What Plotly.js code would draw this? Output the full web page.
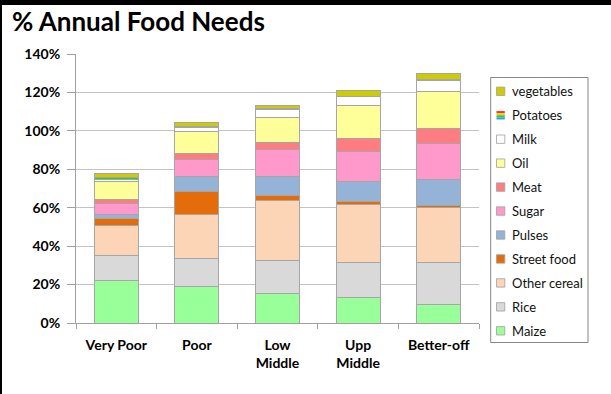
<!DOCTYPE html>
<html>
<head>
<meta charset="utf-8">
<script src="https://cdn.plot.ly/plotly-3.0.1.min.js"></script>
<style>
  html, body { margin: 0; padding: 0; background: #000; width: 611px; height: 394px; overflow: hidden; }
  #chart { position: absolute; left: 2px; top: 5px; width: 609px; height: 389px; background: #fff; }
</style>
</head>
<body>
<div id="chart"></div>
<script>
// ---- data ----
const groups = ['Very Poor', 'Poor', 'Low Middle', 'Upp Middle', 'Better-off'];
const tickLabels = ['Very Poor', 'Poor', 'Low<br>Middle', 'Upp<br>Middle', 'Better-off'];

const seriesNames = ['Maize', 'Rice', 'Other cereal', 'Street food', 'Pulses', 'Sugar', 'Meat', 'Oil', 'Milk', 'Potatoes', 'vegetables'];
const seriesColors = ['#99ff99', '#d9d9d9', '#fbd5b5', '#e46c0a', '#95b3d7', '#ff99cc', '#ff7c80', '#ffff99', '#ffffff', '#ff9900', '#cccc00'];

// percent of annual food needs, per group (Very Poor, Poor, Low Middle, Upp Middle, Better-off)
const maize       = [22.0, 19.0, 15.5, 13.5,  9.6];
const rice        = [13.0, 14.5, 17.1, 18.1, 21.8];
const otherCereal = [15.5, 23.0, 30.9, 30.0, 28.5];
const streetFood  = [ 3.8, 12.0,  2.6,  1.6,  1.2];
const pulses      = [ 2.4,  7.8, 10.0, 10.4, 13.5];
const sugar       = [ 5.6,  9.0, 14.3, 15.5, 18.6];
const meat        = [ 2.1,  3.1,  3.7,  7.0,  7.8];
const oil         = [ 9.0, 11.2, 12.9, 17.2, 19.3];
const milk        = [ 1.2,  2.3,  4.3,  4.5,  6.0];
const potatoes    = [ 1.3,  0.5,  0.3,  0.3,  0.3];
const vegetables  = [ 1.8,  1.9,  1.6,  2.9,  3.4];

const seriesValues = [maize, rice, otherCereal, streetFood, pulses, sugar, meat, oil, milk, potatoes, vegetables];

// ---- traces ----
const traces = seriesNames.map((name, i) => {
  const t = {
    type: 'bar',
    name: name,
    x: tickLabels,
    y: seriesValues[i].map(v => v / 100),
    marker: { color: seriesColors[i], line: { color: '#a6a6a6', width: 1 } },
    showlegend: false,
    hoverinfo: 'skip'
  };
  if (name === 'Potatoes') {
    t.marker.pattern = { shape: '-', fgcolor: '#33cc33', bgcolor: '#ff9900', size: 3, solidity: 0.45 };
  }
  return t;
});

// ---- geometry helpers (page pixels -> paper) ----
const PL = 76, PR = 479, PT = 54, PB = 323;
const px = p => (p - PL) / (PR - PL);
const py = p => (PB - p) / (PB - PT);

const shapes = [];
const annotations = [];
// legend frame
shapes.push({ type: 'rect', xref: 'paper', yref: 'paper', x0: px(490.7), x1: px(588), y0: py(77.5), y1: py(342.5),
  line: { color: '#868686', width: 1 }, fillcolor: 'rgba(0,0,0,0)', layer: 'above' });
// legend entries, top = last series
const order = seriesNames.map((n, i) => i).reverse();
order.forEach((si, k) => {
  const cy = 91.3 + k * 23.95;
  if (seriesNames[si] === 'Potatoes') {
    const stripes = ['#ff3333', '#ffcc00', '#33cc33', '#3399ff'];
    stripes.forEach((c, j) => {
      shapes.push({ type: 'rect', xref: 'paper', yref: 'paper', x0: px(496.5), x1: px(504.8),
        y0: py(cy - 4.2 + j * 2.1 + 2.1), y1: py(cy - 4.2 + j * 2.1), line: { width: 0 }, fillcolor: c, layer: 'above' });
    });
  } else {
    shapes.push({ type: 'rect', xref: 'paper', yref: 'paper', x0: px(496.5), x1: px(504.8), y0: py(cy + 4.2), y1: py(cy - 4.2),
      line: { color: '#a0a0a0', width: 0.8 }, fillcolor: seriesColors[si], layer: 'above' });
  }
  annotations.push({ xref: 'paper', yref: 'paper', x: px(509.5), y: py(cy), xanchor: 'left', yanchor: 'middle',
    text: seriesNames[si], showarrow: false, font: { family: 'Lato, sans-serif', size: 13, color: '#111' } });
});

const layout = {
  width: 609, height: 389,
  margin: { l: 74, r: 132, t: 49, b: 71, pad: 0 },
  paper_bgcolor: '#ffffff', plot_bgcolor: '#ffffff',
  barmode: 'stack', bargap: 0.455,
  title: { text: '% Annual Food Needs', x: 10 / 609, xanchor: 'left', xref: 'container',
    y: 1 - 16.5 / 389, yanchor: 'middle', yref: 'container',
    font: { family: 'Lato, sans-serif', size: 26, color: '#000', weight: 'bold' } },
  xaxis: {
    type: 'category', tickson: 'boundaries', ticks: 'outside', ticklen: 5, tickcolor: '#a0a0a0',
    showline: true, linecolor: '#a0a0a0', linewidth: 1, showgrid: false, zeroline: false,
    ticklabelstandoff: 9,
    tickfont: { family: 'Lato, sans-serif', size: 14, color: '#000', weight: 'bold' }
  },
  yaxis: {
    range: [0, 1.4], dtick: 0.2, tick0: 0, tickformat: '.0%',
    ticks: 'outside', ticklen: 8, tickcolor: '#a0a0a0',
    showline: true, linecolor: '#a0a0a0', linewidth: 1,
    showgrid: true, gridcolor: '#c4c4c4', gridwidth: 1, zeroline: false,
    ticklabelstandoff: 4,
    tickfont: { family: 'Lato, sans-serif', size: 14, color: '#000', weight: 'bold' }
  },
  shapes: shapes,
  annotations: annotations,
  showlegend: false
};

Plotly.newPlot('chart', traces, layout, { staticPlot: true, displayModeBar: false });
</script>
</body>
</html>
